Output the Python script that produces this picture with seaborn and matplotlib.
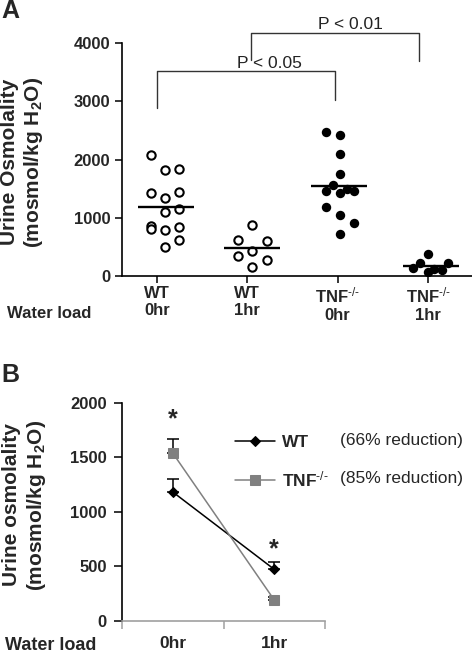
import numpy as np
import pandas as pd
import matplotlib
matplotlib.use("Agg")
import matplotlib.pyplot as plt
import seaborn as sns

# ---------------- Panel A data ----------------
groups_a = ["WT 0hr", "WT 1hr", "TNF 0hr", "TNF 1hr"]
tick_top = ["WT", "WT", "TNF$^{\\text{-/-}}$", "TNF$^{\\text{-/-}}$"]
tick_bottom = ["0hr", "1hr", "0hr", "1hr"]
wt_0hr = [2069, 1421, 860, 815, 1822, 1347, 1095, 791, 504, 1834, 1438, 1146, 848, 619]
wt_1hr = [877, 619, 602, 344, 424, 281, 160]
tnf_0hr = [2464, 2418, 2092, 1759, 1564, 1467, 1432, 1490, 1467, 1186, 1049, 917, 716]
tnf_1hr = [373, 229, 229, 132, 74, 120, 103]

# ---------------- Panel B data ----------------
b_times = ["0hr", "1hr"]
wt_mean = [1181, 471]
wt_sem = [122, 70]
tnf_mean = [1538, 190]
tnf_sem = [132, 25]
reductions = ["(66% reduction)", "(85% reduction)"]

# layout: horizontal scatter offsets (column placement) per group
offs_a = [
    [-0.063] * 4 + [0.089] * 5 + [0.244] * 5,
    [0.055, -0.10, 0.215, -0.10, 0.055, 0.215, 0.055],
    [-0.13, 0.025, 0.025, 0.025, -0.055, -0.13, 0.025, 0.10, 0.18, -0.13, 0.025, 0.18, 0.025],
    [0.0, -0.089, 0.225, -0.163, 0.0, 0.07, 0.152],
]

sns.set_theme(style="ticks")
plt.rcParams["font.family"] = ["Liberation Sans", "DejaVu Sans"]
plt.rcParams["mathtext.fontset"] = "custom"
plt.rcParams["mathtext.rm"] = "Liberation Sans"
plt.rcParams["mathtext.bf"] = "Liberation Sans:bold"
plt.rcParams["mathtext.it"] = "Liberation Sans:italic"
plt.rcParams["mathtext.sf"] = "Liberation Sans"

W, H = 472, 654
fig = plt.figure(figsize=(W / 100, H / 100), dpi=100)
fig.patch.set_facecolor("white")

axA = fig.add_axes([122 / W, 1 - 276 / H, 350 / W, 233 / H])
axB = fig.add_axes([122 / W, 1 - 620.7 / H, 203 / W, 218 / H])

# ---------------- Panel A ----------------
vals_a = [wt_0hr, wt_1hr, tnf_0hr, tnf_1hr]
rows = []
for gi, (vals, offs) in enumerate(zip(vals_a, offs_a)):
    for v, o in zip(vals, offs):
        rows.append(dict(group=groups_a[gi], x=gi + o, value=v,
                         genotype="WT" if gi < 2 else "TNF"))
df = pd.DataFrame(rows)

sns.scatterplot(data=df[df.genotype == "WT"], x="x", y="value", ax=axA,
                marker="o", s=36, facecolor="white", edgecolor="black",
                linewidth=1.5, zorder=3, legend=False)
sns.scatterplot(data=df[df.genotype == "TNF"], x="x", y="value", ax=axA,
                marker="o", s=46, color="black", edgecolor="black",
                linewidth=0, zorder=3, legend=False)

for gi, g in enumerate(groups_a):
    sub = df[df.group == g]
    c = sub.x.mean()
    axA.hlines(sub.value.mean(), c - 0.31, c + 0.31, color="black", lw=1.7, zorder=4)

axA.set_xlim(-0.3875, 3.487)
axA.set_ylim(0, 4000)
axA.set_yticks([0, 1000, 2000, 3000, 4000])
axA.set_xticks(range(4))
axA.set_xticklabels([f"{t}\n{b}" for t, b in zip(tick_top, tick_bottom)],
                    fontsize=12, fontweight="bold", linespacing=1.2)
for lab in axA.get_yticklabels():
    lab.set_fontweight("bold")
    lab.set_fontsize(12)
axA.tick_params(axis="both", direction="out", length=5, width=1.1, color="black")
axA.tick_params(axis="x", pad=2)
axA.tick_params(axis="y", pad=3.5)
axA.set_xlabel("")
axA.set_ylabel("Urine Osmolality\n(mosmol/kg H$_\\mathbf{2}$O)", fontsize=15,
               fontweight="bold", linespacing=1.2, va="center")
axA.yaxis.set_label_coords((22.5 - 122) / 350, (276 - 162) / 233)
for s in ["top", "right"]:
    axA.spines[s].set_visible(False)
for s in ["left", "bottom"]:
    axA.spines[s].set_linewidth(1.2)
    axA.spines[s].set_color("black")
axA.set_facecolor("white")

# significance brackets
axA.plot([0, 0, 1.97, 1.97], [2882, 3524, 3524, 3025], color="#333333", lw=1,
         clip_on=False)
axA.plot([1.037, 1.037, 2.90, 2.90], [3713, 4172, 4172, 3685], color="#333333",
         lw=1, clip_on=False)
axA.text(1.25, 3650, "P < 0.05", ha="center", va="center", fontsize=12.5,
         color="#222222", clip_on=False)
axA.text(2.137, 4326, "P < 0.01", ha="center", va="center", fontsize=12.5,
         color="#222222", clip_on=False)

fig.text(7 / W, 1 - 313 / H, "Water load", ha="left", va="center",
         fontsize=12, fontweight="bold")
fig.text(1 / W, 1 - 18 / H, "A", ha="left", va="baseline", fontsize=18,
         fontweight="bold")

# ---------------- Panel B ----------------
xB = [0.5, 1.5]
axB.errorbar(xB, wt_mean, yerr=[[0, 0], wt_sem], fmt="none", ecolor="black",
             elinewidth=1.1, capsize=4.3, capthick=1.1, zorder=2)
axB.errorbar(xB, tnf_mean, yerr=[[0, 0], tnf_sem], fmt="none", ecolor="black",
             elinewidth=1.1, capsize=4.3, capthick=1.1, zorder=2)
sns.lineplot(x=xB, y=wt_mean, ax=axB, color="black", marker="D", markersize=5.5,
             markeredgecolor="black", lw=1.1, label="WT", zorder=3)
sns.lineplot(x=xB, y=tnf_mean, ax=axB, color="#808080", marker="s",
             markersize=6.5, markeredgecolor="#808080", lw=1.1,
             label="TNF$^{\\text{-/-}}$", zorder=3)

axB.text(0.5, 1781, "*", ha="center", va="baseline", fontsize=18, fontweight="bold")
axB.text(1.5, 589, "*", ha="center", va="baseline", fontsize=18, fontweight="bold")

axB.set_xlim(0, 2)
axB.set_ylim(0, 2000)
axB.set_yticks([0, 500, 1000, 1500, 2000])
axB.set_xticks([0, 1, 2])
axB.set_xticklabels([])
axB.set_xticks(xB, minor=True)
axB.set_xticklabels(b_times, minor=True, fontsize=12.5, fontweight="bold")
axB.tick_params(axis="x", which="major", direction="out", length=6, width=1.1,
                color="#a0a0a0")
axB.tick_params(axis="x", which="minor", length=0, pad=10.7)
axB.tick_params(axis="y", direction="out", length=6, width=1.1, color="black", pad=5)
for lab in axB.get_yticklabels():
    lab.set_fontweight("bold")
    lab.set_fontsize(12)
axB.set_ylabel("Urine osmolality\n(mosmol/kg H$_\\mathbf{2}$O)", fontsize=15,
               fontweight="bold", linespacing=1.2, va="center")
axB.yaxis.set_label_coords((25 - 122) / 203, (620.7 - 505) / 218)
for s in ["top", "right"]:
    axB.spines[s].set_visible(False)
axB.spines["left"].set_color("black")
axB.spines["left"].set_linewidth(1.2)
axB.spines["bottom"].set_color("#a0a0a0")
axB.spines["bottom"].set_linewidth(1.2)
axB.set_facecolor("white")

leg = axB.legend(loc="upper left", bbox_to_anchor=(235 / W, 1 - 435 / H),
                 bbox_transform=fig.transFigure, frameon=False, borderpad=0,
                 borderaxespad=0, handlelength=2.3, handletextpad=0.4,
                 labelspacing=1.1, prop={"weight": "bold", "size": 12.5})

fig.text(340 / W, 1 - 441 / H, reductions[0], ha="left", va="center", fontsize=12.5)
fig.text(340 / W, 1 - 478 / H, reductions[1], ha="left", va="center", fontsize=12.5)

fig.text(5 / W, 1 - 645 / H, "Water load", ha="left", va="center",
         fontsize=13, fontweight="bold")
fig.text(1 / W, 1 - 381.7 / H, "B", ha="left", va="baseline", fontsize=18,
         fontweight="bold")

fig.savefig("out.png", dpi=100, facecolor="white")
